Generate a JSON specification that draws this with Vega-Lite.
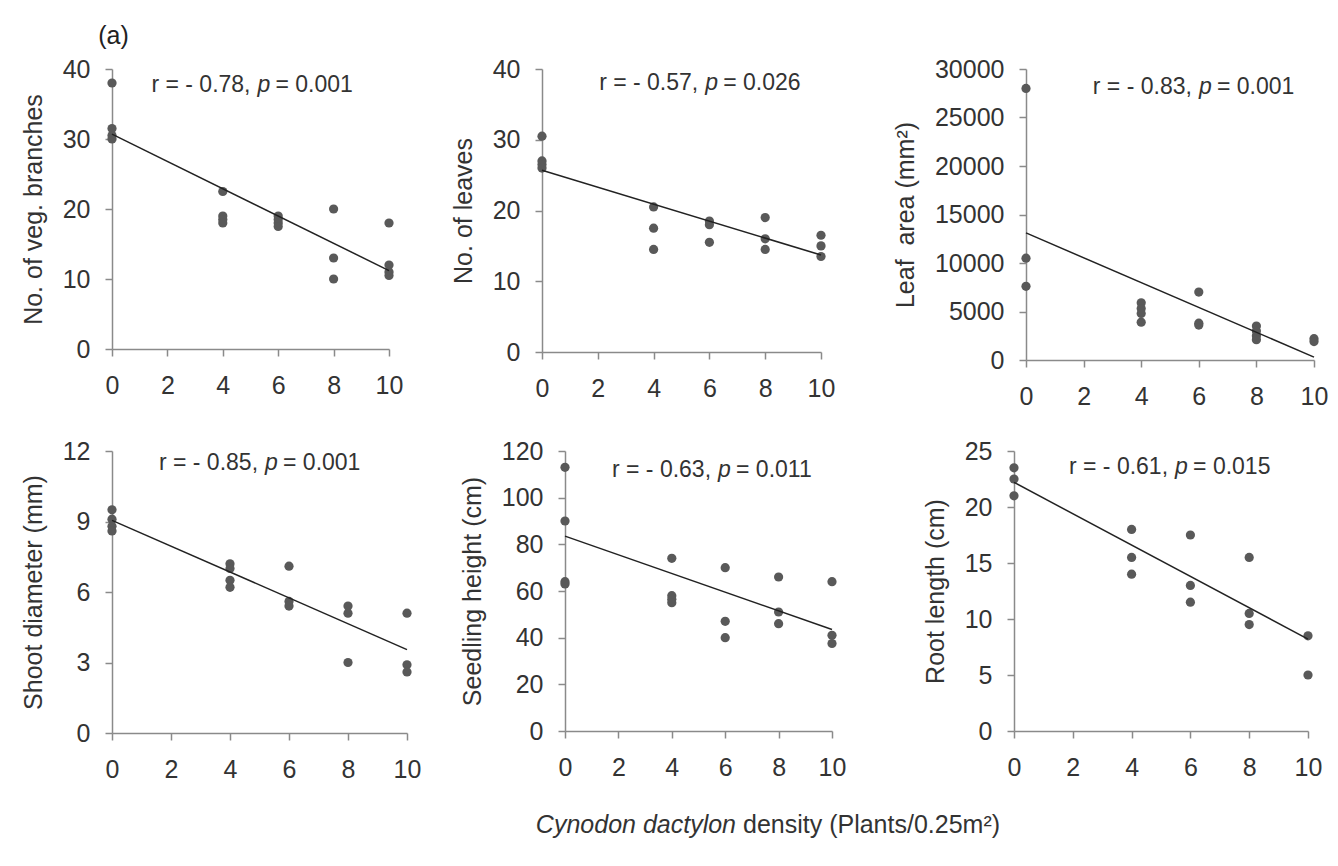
{
  "$schema": "https://vega.github.io/schema/vega-lite/v6.json",
  "background": "white",
  "padding": {"left": 21, "top": 24, "right": 5, "bottom": 5},
  "title": {"text": "(a)", "anchor": "start", "fontSize": 25, "fontWeight": "normal", "color": "#222", "font": "Liberation Sans", "dx": 77, "offset": 8},
  "datasets": {
    "points": [
      {"panel": "branches", "density": 0, "value": 38}, {"panel": "branches", "density": 0, "value": 31.5}, {"panel": "branches", "density": 0, "value": 30.5}, {"panel": "branches", "density": 0, "value": 30},
      {"panel": "branches", "density": 4, "value": 22.5}, {"panel": "branches", "density": 4, "value": 19}, {"panel": "branches", "density": 4, "value": 18.5}, {"panel": "branches", "density": 4, "value": 18},
      {"panel": "branches", "density": 6, "value": 19}, {"panel": "branches", "density": 6, "value": 18.5}, {"panel": "branches", "density": 6, "value": 18}, {"panel": "branches", "density": 6, "value": 17.5},
      {"panel": "branches", "density": 8, "value": 20}, {"panel": "branches", "density": 8, "value": 13}, {"panel": "branches", "density": 8, "value": 10},
      {"panel": "branches", "density": 10, "value": 18}, {"panel": "branches", "density": 10, "value": 12}, {"panel": "branches", "density": 10, "value": 11}, {"panel": "branches", "density": 10, "value": 10.5},
      {"panel": "leaves", "density": 0, "value": 30.5}, {"panel": "leaves", "density": 0, "value": 27}, {"panel": "leaves", "density": 0, "value": 26.5}, {"panel": "leaves", "density": 0, "value": 26},
      {"panel": "leaves", "density": 4, "value": 20.5}, {"panel": "leaves", "density": 4, "value": 17.5}, {"panel": "leaves", "density": 4, "value": 14.5},
      {"panel": "leaves", "density": 6, "value": 18.5}, {"panel": "leaves", "density": 6, "value": 18}, {"panel": "leaves", "density": 6, "value": 15.5},
      {"panel": "leaves", "density": 8, "value": 19}, {"panel": "leaves", "density": 8, "value": 16}, {"panel": "leaves", "density": 8, "value": 14.5},
      {"panel": "leaves", "density": 10, "value": 16.5}, {"panel": "leaves", "density": 10, "value": 15}, {"panel": "leaves", "density": 10, "value": 13.5},
      {"panel": "leafarea", "density": 0, "value": 28000}, {"panel": "leafarea", "density": 0, "value": 10500}, {"panel": "leafarea", "density": 0, "value": 7600},
      {"panel": "leafarea", "density": 4, "value": 5900}, {"panel": "leafarea", "density": 4, "value": 5300}, {"panel": "leafarea", "density": 4, "value": 4800}, {"panel": "leafarea", "density": 4, "value": 3900},
      {"panel": "leafarea", "density": 6, "value": 7000}, {"panel": "leafarea", "density": 6, "value": 3800}, {"panel": "leafarea", "density": 6, "value": 3600},
      {"panel": "leafarea", "density": 8, "value": 3500}, {"panel": "leafarea", "density": 8, "value": 3000}, {"panel": "leafarea", "density": 8, "value": 2500}, {"panel": "leafarea", "density": 8, "value": 2100},
      {"panel": "leafarea", "density": 10, "value": 2200}, {"panel": "leafarea", "density": 10, "value": 1900},
      {"panel": "shoot", "density": 0, "value": 9.5}, {"panel": "shoot", "density": 0, "value": 9.1}, {"panel": "shoot", "density": 0, "value": 8.8}, {"panel": "shoot", "density": 0, "value": 8.6},
      {"panel": "shoot", "density": 4, "value": 7.2}, {"panel": "shoot", "density": 4, "value": 7.0}, {"panel": "shoot", "density": 4, "value": 6.5}, {"panel": "shoot", "density": 4, "value": 6.2},
      {"panel": "shoot", "density": 6, "value": 7.1}, {"panel": "shoot", "density": 6, "value": 5.6}, {"panel": "shoot", "density": 6, "value": 5.4},
      {"panel": "shoot", "density": 8, "value": 5.4}, {"panel": "shoot", "density": 8, "value": 5.1}, {"panel": "shoot", "density": 8, "value": 3.0},
      {"panel": "shoot", "density": 10, "value": 5.1}, {"panel": "shoot", "density": 10, "value": 2.9}, {"panel": "shoot", "density": 10, "value": 2.6},
      {"panel": "seedling", "density": 0, "value": 113}, {"panel": "seedling", "density": 0, "value": 90}, {"panel": "seedling", "density": 0, "value": 64}, {"panel": "seedling", "density": 0, "value": 63},
      {"panel": "seedling", "density": 4, "value": 74}, {"panel": "seedling", "density": 4, "value": 58}, {"panel": "seedling", "density": 4, "value": 56.5}, {"panel": "seedling", "density": 4, "value": 55},
      {"panel": "seedling", "density": 6, "value": 70}, {"panel": "seedling", "density": 6, "value": 47}, {"panel": "seedling", "density": 6, "value": 40},
      {"panel": "seedling", "density": 8, "value": 66}, {"panel": "seedling", "density": 8, "value": 51}, {"panel": "seedling", "density": 8, "value": 46},
      {"panel": "seedling", "density": 10, "value": 64}, {"panel": "seedling", "density": 10, "value": 41}, {"panel": "seedling", "density": 10, "value": 37.5},
      {"panel": "root", "density": 0, "value": 23.5}, {"panel": "root", "density": 0, "value": 22.5}, {"panel": "root", "density": 0, "value": 21},
      {"panel": "root", "density": 4, "value": 18}, {"panel": "root", "density": 4, "value": 15.5}, {"panel": "root", "density": 4, "value": 14},
      {"panel": "root", "density": 6, "value": 17.5}, {"panel": "root", "density": 6, "value": 13}, {"panel": "root", "density": 6, "value": 11.5},
      {"panel": "root", "density": 8, "value": 15.5}, {"panel": "root", "density": 8, "value": 10.5}, {"panel": "root", "density": 8, "value": 9.5},
      {"panel": "root", "density": 10, "value": 8.5}, {"panel": "root", "density": 10, "value": 5}
    ],
    "fits": [
      {"panel": "branches", "density": 0, "value": 30.7}, {"panel": "branches", "density": 10, "value": 11.2},
      {"panel": "leaves", "density": 0, "value": 25.7}, {"panel": "leaves", "density": 10, "value": 13.7},
      {"panel": "leafarea", "density": 0, "value": 13100}, {"panel": "leafarea", "density": 10, "value": 300},
      {"panel": "shoot", "density": 0, "value": 9.05}, {"panel": "shoot", "density": 10, "value": 3.55},
      {"panel": "seedling", "density": 0, "value": 83.5}, {"panel": "seedling", "density": 10, "value": 43.5},
      {"panel": "root", "density": 0, "value": 22.2}, {"panel": "root", "density": 10, "value": 8.2}
    ],
    "stats": [
      {"panel": "branches", "r": "r = - 0.78,", "p": "p", "pv": "= 0.001"},
      {"panel": "leaves", "r": "r = - 0.57,", "p": "p", "pv": "= 0.026"},
      {"panel": "leafarea", "r": "r = - 0.83,", "p": "p", "pv": "= 0.001"},
      {"panel": "shoot", "r": "r = - 0.85,", "p": "p", "pv": "= 0.001"},
      {"panel": "seedling", "r": "r = - 0.63,", "p": "p", "pv": "= 0.011"},
      {"panel": "root", "r": "r = - 0.61,", "p": "p", "pv": "= 0.015"}
    ],
    "caption": [
      {"italic": "Cynodon dactylon", "rest": "density (Plants/0.25m²)"}
    ]
  },
  "vconcat": [
    {
      "spacing": 48,
      "hconcat": [
        {
          "width": 277, "height": 280,
          "layer": [
            {"data": {"name": "points"}, "transform": [{"filter": "datum.panel === 'branches'"}],
             "mark": {"type": "circle", "size": 85, "color": "#595959", "opacity": 1},
             "encoding": {
               "x": {"field": "density", "type": "quantitative", "scale": {"domain": [0, 10], "nice": false}, "axis": {"values": [0, 2, 4, 6, 8, 10], "title": null}},
               "y": {"field": "value", "type": "quantitative", "scale": {"domain": [0, 40], "nice": false}, "axis": {"values": [0, 10, 20, 30, 40], "title": "No. of veg. branches"}}
             }},
            {"data": {"name": "fits"}, "transform": [{"filter": "datum.panel === 'branches'"}],
             "mark": {"type": "line", "color": "#222222", "strokeWidth": 1.5},
             "encoding": {"x": {"field": "density", "type": "quantitative"}, "y": {"field": "value", "type": "quantitative"}}},
            {"data": {"name": "stats"}, "transform": [{"filter": "datum.panel === 'branches'"}],
             "mark": {"type": "text", "align": "right", "baseline": "middle", "fontSize": 23, "color": "#333333"},
             "encoding": {"x": {"datum": 5.0, "type": "quantitative"}, "y": {"datum": 37.7, "type": "quantitative"}, "text": {"field": "r"}}},
            {"data": {"name": "stats"}, "transform": [{"filter": "datum.panel === 'branches'"}],
             "mark": {"type": "text", "align": "left", "baseline": "middle", "fontSize": 23, "fontStyle": "italic", "dx": 7, "color": "#333333"},
             "encoding": {"x": {"datum": 5.0, "type": "quantitative"}, "y": {"datum": 37.7, "type": "quantitative"}, "text": {"field": "p"}}},
            {"data": {"name": "stats"}, "transform": [{"filter": "datum.panel === 'branches'"}],
             "mark": {"type": "text", "align": "left", "baseline": "middle", "fontSize": 23, "dx": 25, "color": "#333333"},
             "encoding": {"x": {"datum": 5.0, "type": "quantitative"}, "y": {"datum": 37.7, "type": "quantitative"}, "text": {"field": "pv"}}}
          ]
        },
        {
          "spacing": 58,
          "hconcat": [
            {
              "width": 279, "height": 283,
              "layer": [
                {"data": {"name": "points"}, "transform": [{"filter": "datum.panel === 'leaves'"}],
                 "mark": {"type": "circle", "size": 85, "color": "#595959", "opacity": 1},
                 "encoding": {
                   "x": {"field": "density", "type": "quantitative", "scale": {"domain": [0, 10], "nice": false}, "axis": {"values": [0, 2, 4, 6, 8, 10], "title": null}},
                   "y": {"field": "value", "type": "quantitative", "scale": {"domain": [0, 40], "nice": false}, "axis": {"values": [0, 10, 20, 30, 40], "title": "No. of leaves"}}
                 }},
                {"data": {"name": "fits"}, "transform": [{"filter": "datum.panel === 'leaves'"}],
                 "mark": {"type": "line", "color": "#222222", "strokeWidth": 1.5},
                 "encoding": {"x": {"field": "density", "type": "quantitative"}, "y": {"field": "value", "type": "quantitative"}}},
                {"data": {"name": "stats"}, "transform": [{"filter": "datum.panel === 'leaves'"}],
                 "mark": {"type": "text", "align": "right", "baseline": "middle", "fontSize": 23, "color": "#333333"},
                 "encoding": {"x": {"datum": 5.6, "type": "quantitative"}, "y": {"datum": 38.0, "type": "quantitative"}, "text": {"field": "r"}}},
                {"data": {"name": "stats"}, "transform": [{"filter": "datum.panel === 'leaves'"}],
                 "mark": {"type": "text", "align": "left", "baseline": "middle", "fontSize": 23, "fontStyle": "italic", "dx": 7, "color": "#333333"},
                 "encoding": {"x": {"datum": 5.6, "type": "quantitative"}, "y": {"datum": 38.0, "type": "quantitative"}, "text": {"field": "p"}}},
                {"data": {"name": "stats"}, "transform": [{"filter": "datum.panel === 'leaves'"}],
                 "mark": {"type": "text", "align": "left", "baseline": "middle", "fontSize": 23, "dx": 25, "color": "#333333"},
                 "encoding": {"x": {"datum": 5.6, "type": "quantitative"}, "y": {"datum": 38.0, "type": "quantitative"}, "text": {"field": "pv"}}}
              ]
            },
            {
              "width": 288, "height": 291,
              "layer": [
                {"data": {"name": "points"}, "transform": [{"filter": "datum.panel === 'leafarea'"}],
                 "mark": {"type": "circle", "size": 85, "color": "#595959", "opacity": 1},
                 "encoding": {
                   "x": {"field": "density", "type": "quantitative", "scale": {"domain": [0, 10], "nice": false}, "axis": {"values": [0, 2, 4, 6, 8, 10], "title": null}},
                   "y": {"field": "value", "type": "quantitative", "scale": {"domain": [0, 30000], "nice": false}, "axis": {"values": [0, 5000, 10000, 15000, 20000, 25000, 30000], "format": "d", "title": "Leaf\u00a0 area (mm²)"}}
                 }},
                {"data": {"name": "fits"}, "transform": [{"filter": "datum.panel === 'leafarea'"}],
                 "mark": {"type": "line", "color": "#222222", "strokeWidth": 1.5},
                 "encoding": {"x": {"field": "density", "type": "quantitative"}, "y": {"field": "value", "type": "quantitative"}}},
                {"data": {"name": "stats"}, "transform": [{"filter": "datum.panel === 'leafarea'"}],
                 "mark": {"type": "text", "align": "right", "baseline": "middle", "fontSize": 23, "color": "#333333"},
                 "encoding": {"x": {"datum": 5.76, "type": "quantitative"}, "y": {"datum": 28160, "type": "quantitative"}, "text": {"field": "r"}}},
                {"data": {"name": "stats"}, "transform": [{"filter": "datum.panel === 'leafarea'"}],
                 "mark": {"type": "text", "align": "left", "baseline": "middle", "fontSize": 23, "fontStyle": "italic", "dx": 7, "color": "#333333"},
                 "encoding": {"x": {"datum": 5.76, "type": "quantitative"}, "y": {"datum": 28160, "type": "quantitative"}, "text": {"field": "p"}}},
                {"data": {"name": "stats"}, "transform": [{"filter": "datum.panel === 'leafarea'"}],
                 "mark": {"type": "text", "align": "left", "baseline": "middle", "fontSize": 23, "dx": 25, "color": "#333333"},
                 "encoding": {"x": {"datum": 5.76, "type": "quantitative"}, "y": {"datum": 28160, "type": "quantitative"}, "text": {"field": "pv"}}}
              ]
            }
          ]
        }
      ]
    },
    {
      "spacing": 39,
      "hconcat": [
        {
          "width": 295, "height": 282,
          "layer": [
            {"data": {"name": "points"}, "transform": [{"filter": "datum.panel === 'shoot'"}],
             "mark": {"type": "circle", "size": 85, "color": "#595959", "opacity": 1},
             "encoding": {
               "x": {"field": "density", "type": "quantitative", "scale": {"domain": [0, 10], "nice": false}, "axis": {"values": [0, 2, 4, 6, 8, 10], "title": null}},
               "y": {"field": "value", "type": "quantitative", "scale": {"domain": [0, 12], "nice": false}, "axis": {"values": [0, 3, 6, 9, 12], "title": "Shoot diameter (mm)"}}
             }},
            {"data": {"name": "fits"}, "transform": [{"filter": "datum.panel === 'shoot'"}],
             "mark": {"type": "line", "color": "#222222", "strokeWidth": 1.5},
             "encoding": {"x": {"field": "density", "type": "quantitative"}, "y": {"field": "value", "type": "quantitative"}}},
            {"data": {"name": "stats"}, "transform": [{"filter": "datum.panel === 'shoot'"}],
             "mark": {"type": "text", "align": "right", "baseline": "middle", "fontSize": 23, "color": "#333333"},
             "encoding": {"x": {"datum": 4.95, "type": "quantitative"}, "y": {"datum": 11.5, "type": "quantitative"}, "text": {"field": "r"}}},
            {"data": {"name": "stats"}, "transform": [{"filter": "datum.panel === 'shoot'"}],
             "mark": {"type": "text", "align": "left", "baseline": "middle", "fontSize": 23, "fontStyle": "italic", "dx": 7, "color": "#333333"},
             "encoding": {"x": {"datum": 4.95, "type": "quantitative"}, "y": {"datum": 11.5, "type": "quantitative"}, "text": {"field": "p"}}},
            {"data": {"name": "stats"}, "transform": [{"filter": "datum.panel === 'shoot'"}],
             "mark": {"type": "text", "align": "left", "baseline": "middle", "fontSize": 23, "dx": 25, "color": "#333333"},
             "encoding": {"x": {"datum": 4.95, "type": "quantitative"}, "y": {"datum": 11.5, "type": "quantitative"}, "text": {"field": "pv"}}}
          ]
        },
        {
          "spacing": 77,
          "hconcat": [
            {
              "width": 267, "height": 280,
              "layer": [
                {"data": {"name": "points"}, "transform": [{"filter": "datum.panel === 'seedling'"}],
                 "mark": {"type": "circle", "size": 85, "color": "#595959", "opacity": 1},
                 "encoding": {
                   "x": {"field": "density", "type": "quantitative", "scale": {"domain": [0, 10], "nice": false}, "axis": {"values": [0, 2, 4, 6, 8, 10], "title": null}},
                   "y": {"field": "value", "type": "quantitative", "scale": {"domain": [0, 120], "nice": false}, "axis": {"values": [0, 20, 40, 60, 80, 100, 120], "title": "Seedling height (cm)"}}
                 }},
                {"data": {"name": "fits"}, "transform": [{"filter": "datum.panel === 'seedling'"}],
                 "mark": {"type": "line", "color": "#222222", "strokeWidth": 1.5},
                 "encoding": {"x": {"field": "density", "type": "quantitative"}, "y": {"field": "value", "type": "quantitative"}}},
                {"data": {"name": "stats"}, "transform": [{"filter": "datum.panel === 'seedling'"}],
                 "mark": {"type": "text", "align": "right", "baseline": "middle", "fontSize": 23, "color": "#333333"},
                 "encoding": {"x": {"datum": 5.47, "type": "quantitative"}, "y": {"datum": 111.8, "type": "quantitative"}, "text": {"field": "r"}}},
                {"data": {"name": "stats"}, "transform": [{"filter": "datum.panel === 'seedling'"}],
                 "mark": {"type": "text", "align": "left", "baseline": "middle", "fontSize": 23, "fontStyle": "italic", "dx": 7, "color": "#333333"},
                 "encoding": {"x": {"datum": 5.47, "type": "quantitative"}, "y": {"datum": 111.8, "type": "quantitative"}, "text": {"field": "p"}}},
                {"data": {"name": "stats"}, "transform": [{"filter": "datum.panel === 'seedling'"}],
                 "mark": {"type": "text", "align": "left", "baseline": "middle", "fontSize": 23, "dx": 25, "color": "#333333"},
                 "encoding": {"x": {"datum": 5.47, "type": "quantitative"}, "y": {"datum": 111.8, "type": "quantitative"}, "text": {"field": "pv"}}}
              ]
            },
            {
              "width": 294, "height": 280,
              "layer": [
                {"data": {"name": "points"}, "transform": [{"filter": "datum.panel === 'root'"}],
                 "mark": {"type": "circle", "size": 85, "color": "#595959", "opacity": 1},
                 "encoding": {
                   "x": {"field": "density", "type": "quantitative", "scale": {"domain": [0, 10], "nice": false}, "axis": {"values": [0, 2, 4, 6, 8, 10], "title": null}},
                   "y": {"field": "value", "type": "quantitative", "scale": {"domain": [0, 25], "nice": false}, "axis": {"values": [0, 5, 10, 15, 20, 25], "title": "Root length (cm)"}}
                 }},
                {"data": {"name": "fits"}, "transform": [{"filter": "datum.panel === 'root'"}],
                 "mark": {"type": "line", "color": "#222222", "strokeWidth": 1.5},
                 "encoding": {"x": {"field": "density", "type": "quantitative"}, "y": {"field": "value", "type": "quantitative"}}},
                {"data": {"name": "stats"}, "transform": [{"filter": "datum.panel === 'root'"}],
                 "mark": {"type": "text", "align": "right", "baseline": "middle", "fontSize": 23, "color": "#333333"},
                 "encoding": {"x": {"datum": 5.24, "type": "quantitative"}, "y": {"datum": 23.6, "type": "quantitative"}, "text": {"field": "r"}}},
                {"data": {"name": "stats"}, "transform": [{"filter": "datum.panel === 'root'"}],
                 "mark": {"type": "text", "align": "left", "baseline": "middle", "fontSize": 23, "fontStyle": "italic", "dx": 7, "color": "#333333"},
                 "encoding": {"x": {"datum": 5.24, "type": "quantitative"}, "y": {"datum": 23.6, "type": "quantitative"}, "text": {"field": "p"}}},
                {"data": {"name": "stats"}, "transform": [{"filter": "datum.panel === 'root'"}],
                 "mark": {"type": "text", "align": "left", "baseline": "middle", "fontSize": 23, "dx": 25, "color": "#333333"},
                 "encoding": {"x": {"datum": 5.24, "type": "quantitative"}, "y": {"datum": 23.6, "type": "quantitative"}, "text": {"field": "pv"}}}
              ]
            }
          ]
        }
      ]
    },
    {
      "width": 1300, "height": 26,
      "data": {"name": "caption"},
      "layer": [
        {"mark": {"type": "text", "align": "right", "baseline": "middle", "fontSize": 25, "fontStyle": "italic", "color": "#333333"},
         "encoding": {"x": {"datum": 0.48, "type": "quantitative", "scale": {"domain": [0, 1]}, "axis": null}, "text": {"field": "italic"}}},
        {"mark": {"type": "text", "align": "left", "baseline": "middle", "fontSize": 25, "dx": 7, "color": "#333333"},
         "encoding": {"x": {"datum": 0.48, "type": "quantitative"}, "text": {"field": "rest"}}}
      ]
    }
  ],
  "spacing": 30,
  "config": {
    "font": "Liberation Sans",
    "view": {"stroke": null},
    "axis": {
      "grid": false,
      "domainColor": "#8a8a8a", "domainWidth": 1.5,
      "tickColor": "#8a8a8a", "tickWidth": 1.5, "tickSize": 7,
      "labelFont": "Liberation Sans", "labelFontSize": 25, "labelColor": "#333333",
      "titleFont": "Liberation Sans", "titleFontSize": 25, "titleFontWeight": "normal", "titleColor": "#333333"
    },
    "axisX": {"labelPadding": 17, "labelFlush": false},
    "axisY": {"labelPadding": 15, "titlePadding": 16, "labelFlush": false}
  }
}
